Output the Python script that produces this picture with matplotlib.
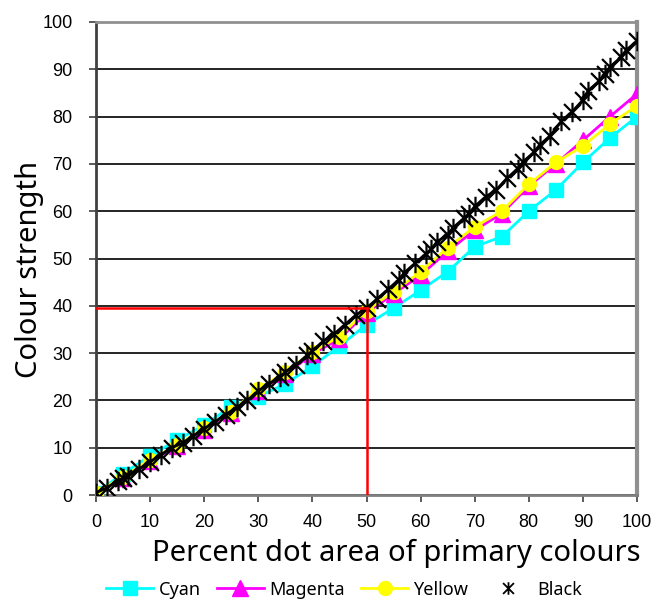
import matplotlib
matplotlib.use('Agg')
import matplotlib.pyplot as plt
from matplotlib.path import Path
from matplotlib.lines import Line2D

# dot area steps for the three colour inks
dot_area = [0, 5, 10, 15, 20, 25, 30, 35, 40, 45, 50,
            55, 60, 65, 70, 75, 80, 85, 90, 95, 100]
cyan = [0.5, 4.5, 8.3, 11.6, 14.8, 18.7, 20.8, 23.5, 27.2, 31.5, 36.0,
        39.5, 43.3, 47.2, 52.5, 54.6, 60.0, 64.5, 70.3, 75.5, 80.0]
magenta = [0.3, 3.6, 7.2, 10.3, 13.8, 17.3, 22.0, 25.5, 29.8, 33.0, 38.5,
           42.5, 46.5, 51.5, 56.0, 59.5, 65.3, 70.0, 75.0, 80.0, 84.8]
yellow = [0.5, 3.9, 7.4, 10.6, 14.1, 17.6, 22.5, 26.0, 30.3, 33.5, 39.0,
          43.0, 47.2, 52.3, 56.7, 60.0, 65.7, 70.3, 73.8, 78.4, 82.3]

# black was measured at more points
black_x = [0, 2, 4, 5, 6, 8, 10, 12, 14, 16, 18, 20, 22, 24, 26, 28, 30,
           32, 34, 35, 37, 39, 40, 42, 44, 46, 48, 50, 52, 54, 56, 57, 59,
           61, 62, 63, 65, 66, 68, 69, 70, 72, 74, 76, 78, 79, 81, 82, 84,
           86, 88, 90, 91, 93, 94, 95, 97, 98, 100]
black_y = [0.5, 1.5, 3.0, 3.5, 4.0, 5.5, 7.0, 8.5, 10.0, 11.0, 12.5, 14.0,
           15.5, 17.0, 18.5, 20.0, 22.0, 23.5, 25.0, 26.0, 27.5, 29.5, 30.5,
           32.5, 34.0, 36.0, 38.0, 39.5, 41.5, 43.5, 45.5, 47.0, 49.0, 51.0,
           52.0, 53.5, 55.0, 56.5, 58.5, 59.5, 61.0, 63.0, 64.5, 67.0, 69.0,
           70.5, 72.5, 74.0, 76.0, 79.0, 81.0, 83.5, 85.5, 87.5, 89.0, 90.5,
           92.5, 94.0, 96.0]

ref_x = 50
ref_y = 39.5

label_font = 'Noto Sans'
tick_font = 'Liberation Sans'

# excel style star: x with a vertical bar
star = Path([(-1, -1), (1, 1), (-1, 1), (1, -1), (0, -1.15), (0, 1.15)],
            [Path.MOVETO, Path.LINETO, Path.MOVETO, Path.LINETO,
             Path.MOVETO, Path.LINETO])

fig = plt.figure(figsize=(6.56, 6.03), dpi=100)
ax = fig.add_axes([96 / 656, 1 - 495 / 603, 541 / 656, 473 / 603])

ax.plot(dot_area, cyan, color='#00ffff', lw=2, marker='s', ms=10,
        label='Cyan', zorder=3)
ax.plot(dot_area, magenta, color='#ff00ff', lw=2, marker='^', ms=11,
        label='Magenta', zorder=4)
ax.plot(dot_area, yellow, color='#ffff00', lw=2, marker='o', ms=10,
        label='Yellow', zorder=5)
ax.plot(black_x, black_y, color='black', lw=2, marker=star, ms=14,
        mew=1.6, label='Black', zorder=6)

ax.plot([0, ref_x], [ref_y, ref_y], color='red', lw=1.8, zorder=7)
ax.plot([ref_x, ref_x], [0, ref_y], color='red', lw=1.8, zorder=7)

ax.set_xlim(0, 100)
ax.set_ylim(0, 100)
ax.set_xticks(range(0, 101, 10))
ax.set_yticks(range(0, 101, 10))
ax.yaxis.grid(True, color='black', lw=1.2)
ax.set_axisbelow(True)

ax.spines['left'].set_color('#404040')
ax.spines['left'].set_linewidth(2)
ax.spines['bottom'].set_color('#808080')
ax.spines['bottom'].set_linewidth(2)
ax.spines['top'].set_color('#909090')
ax.spines['top'].set_linewidth(2)
ax.spines['right'].set_color('#909090')
ax.spines['right'].set_linewidth(3)
ax.tick_params(axis='y', length=5, width=1.2, color='#404040', pad=12,
               labelsize=13, labelfontfamily=tick_font)
ax.tick_params(axis='x', length=5, width=1.2, color='#404040', pad=9,
               labelsize=13, labelfontfamily=tick_font)

fig.text(396 / 656, 1 - 553 / 603, 'Percent dot area of primary colours',
         ha='center', va='center', fontsize=21, family=label_font)
fig.text(30 / 656, 1 - 269 / 603, 'Colour strength', ha='center',
         va='center', rotation=90, fontsize=21, family=label_font)

handles, labels = ax.get_legend_handles_labels()
handles[3] = Line2D([], [], color='black', lw=0, marker=star, ms=9, mew=1.3)
fig.legend(handles, labels, loc='center', bbox_to_anchor=(344 / 656, 0.022),
           ncol=4, frameon=False, handlelength=2.6, handletextpad=0.3,
           columnspacing=0.9, prop={'family': label_font, 'size': 13})

fig.savefig('out.png', dpi=100)
